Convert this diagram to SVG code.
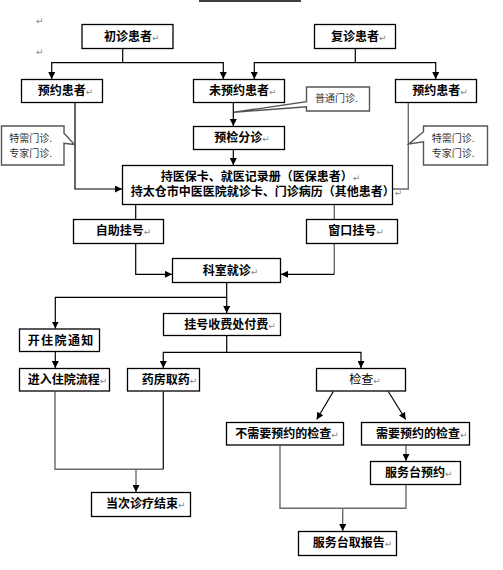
<svg xmlns="http://www.w3.org/2000/svg" width="503" height="570" viewBox="0 0 503 570">
<style>
.box{fill:#fff;stroke:#000;stroke-width:1.3}
.call{fill:#fff;stroke:#555;stroke-width:1.4}
.t{font-family:"Noto Sans CJK SC","Liberation Sans",sans-serif;font-size:12px;font-weight:bold;fill:#000}
.n{font-weight:normal}
.s{font-family:"Noto Sans CJK SC","Liberation Sans",sans-serif;font-size:10px;fill:#333}
.pm{font-family:"DejaVu Sans",sans-serif;font-size:9px;font-weight:normal;fill:#888}
.c{fill:none;stroke:#000;stroke-width:1.2}
.g{fill:none;stroke:#6a6a6a;stroke-width:1.4}
.a{marker-end:url(#ar)}
</style>
<defs>
<marker id="ar" markerUnits="userSpaceOnUse" markerWidth="7" markerHeight="7" refX="7" refY="3.5" orient="auto">
<path d="M0,0 L7,3.5 L0,7 Z" fill="#000"/>
</marker>
</defs>
<line x1="199" y1="1" x2="301" y2="1" stroke="#000" stroke-width="1.5"/>
<text x="36" y="24" class="pm">↵</text>
<text x="36" y="55" class="pm">↵</text>
<g id="connectors">
<path class="c" d="M122.7,48.5 V62.7"/>
<path class="c a" d="M122.7,62.7 H51.7 V79"/>
<path class="c a" d="M122.7,62.7 H223.3 V79"/>
<path class="c" d="M355.3,48.5 V62.7"/>
<path class="c a" d="M355.3,62.7 H254.3 V79"/>
<path class="c a" d="M355.3,62.7 H435.7 V79"/>
<path class="c a" d="M75,102.5 V189 H122"/>
<path class="g" d="M408.3,102.5 V189 H392.5"/>
<path class="c a" d="M233.3,102.5 V126"/>
<path class="c a" d="M233.3,149.5 V165"/>
<path class="c" d="M135.7,204.5 V219.5"/>
<path class="g" d="M334.3,204.5 V219.5"/>
<path class="c a" d="M135.7,243.5 V274.3 H172"/>
<path class="g" d="M334.3,243.5 V274.3"/>
<path class="c a" d="M334.3,274.3 H281"/>
<path class="c a" d="M226.7,282.5 V313"/>
<path class="c a" d="M226.7,297.3 H55.3 V328.5"/>
<path class="c a" d="M55.3,351.5 V368"/>
<path class="c" d="M226.7,335.5 V352.3"/>
<path class="c a" d="M226.7,352.3 H163.3 V368"/>
<path class="c a" d="M226.7,352.3 H361 V368"/>
<path class="c a" d="M333.3,391.5 L316.7,419.5"/>
<path class="c a" d="M388.3,391.5 L405.7,419.5"/>
<path class="g" d="M55,391.5 V469.3 H163.3"/>
<path class="c" d="M163.3,469.3 V391.5"/>
<path class="g a" d="M136,469.3 V492"/>
<path class="g a" d="M406,445.5 V461"/>
<path class="g" d="M280,445.5 V508.3 H406 V485"/>
<path class="g a" d="M342.7,508.3 V531"/>
</g>
<g id="n1"><rect class="box" x="82" y="24.5" width="91" height="24"/><text class="t" x="104" y="40.5">初诊患者<tspan class="pm">↵</tspan></text></g>
<g id="n2"><rect class="box" x="314.5" y="24.5" width="81" height="24"/><text class="t" x="331" y="40.5">复诊患者<tspan class="pm">↵</tspan></text></g>
<g id="n3"><rect class="box" x="21.5" y="79.5" width="81" height="23"/><text class="t" x="37.7" y="95">预约患者<tspan class="pm">↵</tspan></text></g>
<g id="n4"><rect class="box" x="193.5" y="79.5" width="91" height="23"/><text class="t" x="209" y="95">未预约患者<tspan class="pm">↵</tspan></text></g>
<g id="n5"><rect class="box" x="395.5" y="79.5" width="81" height="23"/><text class="t" x="412.3" y="95">预约患者<tspan class="pm">↵</tspan></text></g>
<g id="callout-general"><path class="call" d="M306.5,87 H369.5 V111 H306.5 V106.7 L233.8,112.3 L306.5,101.7 Z"/><text class="s" x="315" y="102">普通门诊.</text></g>
<g id="callout-left"><path class="call" d="M1.5,126 H64 V133.3 L74.5,144.5 L64,143.3 V165 H1.5 Z"/><text class="s" x="9.3" y="142">特需门诊.</text><text class="s" x="9.3" y="157">专家门诊.</text></g>
<g id="callout-right"><path class="call" d="M423.5,126 H487.5 V165 H423.5 V141.7 L408.8,144 L423.5,131.7 Z"/><text class="s" x="431.7" y="142">特需门诊.</text><text class="s" x="431.7" y="157">专家门诊.</text></g>
<g id="n6"><rect class="box" x="193.5" y="126.5" width="91" height="23"/><text class="t" x="214.3" y="142">预检分诊<tspan class="pm">↵</tspan></text></g>
<g id="n7"><rect class="box" x="122.5" y="165.5" width="270" height="39"/><text class="t" x="160.7" y="181">持医保卡、就医记录册（医保患者）<tspan class="pm">↵</tspan></text><text class="t" x="130.7" y="196">持太仓市中医医院就诊卡、门诊病历（其他患者）<tspan class="pm">↵</tspan></text></g>
<g id="n8"><rect class="box" x="73.5" y="219.5" width="90" height="24"/><text class="t" x="95.7" y="235">自助挂号<tspan class="pm">↵</tspan></text></g>
<g id="n9"><rect class="box" x="306.5" y="219.5" width="91" height="24"/><text class="t" x="328.3" y="235">窗口挂号<tspan class="pm">↵</tspan></text></g>
<g id="n10"><rect class="box" x="172.5" y="258.5" width="108" height="24"/><text class="t" x="202.7" y="274.5">科室就诊<tspan class="pm">↵</tspan></text></g>
<g id="n11"><rect class="box" x="163.5" y="313.5" width="117" height="22"/><text class="t" x="184.3" y="328.5">挂号收费处付费<tspan class="pm">↵</tspan></text></g>
<g id="n12"><rect class="box" x="19.5" y="329" width="80" height="22.5"/><text class="t" x="27.7" y="344.5" letter-spacing="1.4">开住院通知</text></g>
<g id="n13"><rect class="box" x="19.5" y="368.5" width="90" height="22.5"/><text class="t" x="27.7" y="383.5">进入住院流程<tspan class="pm">↵</tspan></text></g>
<g id="n14"><rect class="box" x="127.5" y="368.5" width="72" height="22.5"/><text class="t" x="141.7" y="383.5">药房取药<tspan class="pm">↵</tspan></text></g>
<g id="n15"><rect class="box" x="316.5" y="368.5" width="89" height="22.5"/><text class="t n" x="349.3" y="383.5">检查<tspan class="pm">↵</tspan></text></g>
<g id="n16"><rect class="box" x="226.5" y="422.5" width="117" height="22.5"/><text class="t" x="235.3" y="438.3">不需要预约的检查<tspan class="pm">↵</tspan></text></g>
<g id="n17"><rect class="box" x="361.5" y="422.5" width="108" height="22.5"/><text class="t" x="376" y="438.3">需要预约的检查<tspan class="pm">↵</tspan></text></g>
<g id="n18"><rect class="box" x="370.5" y="461.5" width="90" height="23"/><text class="t" x="385" y="477">服务台预约<tspan class="pm">↵</tspan></text></g>
<g id="n19"><rect class="box" x="91.5" y="492.5" width="99" height="24"/><text class="t" x="106" y="508">当次诊疗结束<tspan class="pm">↵</tspan></text></g>
<g id="n20"><rect class="box" x="298.5" y="531.5" width="98" height="24"/><text class="t" x="312.7" y="547">服务台取报告<tspan class="pm">↵</tspan></text></g>
</svg>
